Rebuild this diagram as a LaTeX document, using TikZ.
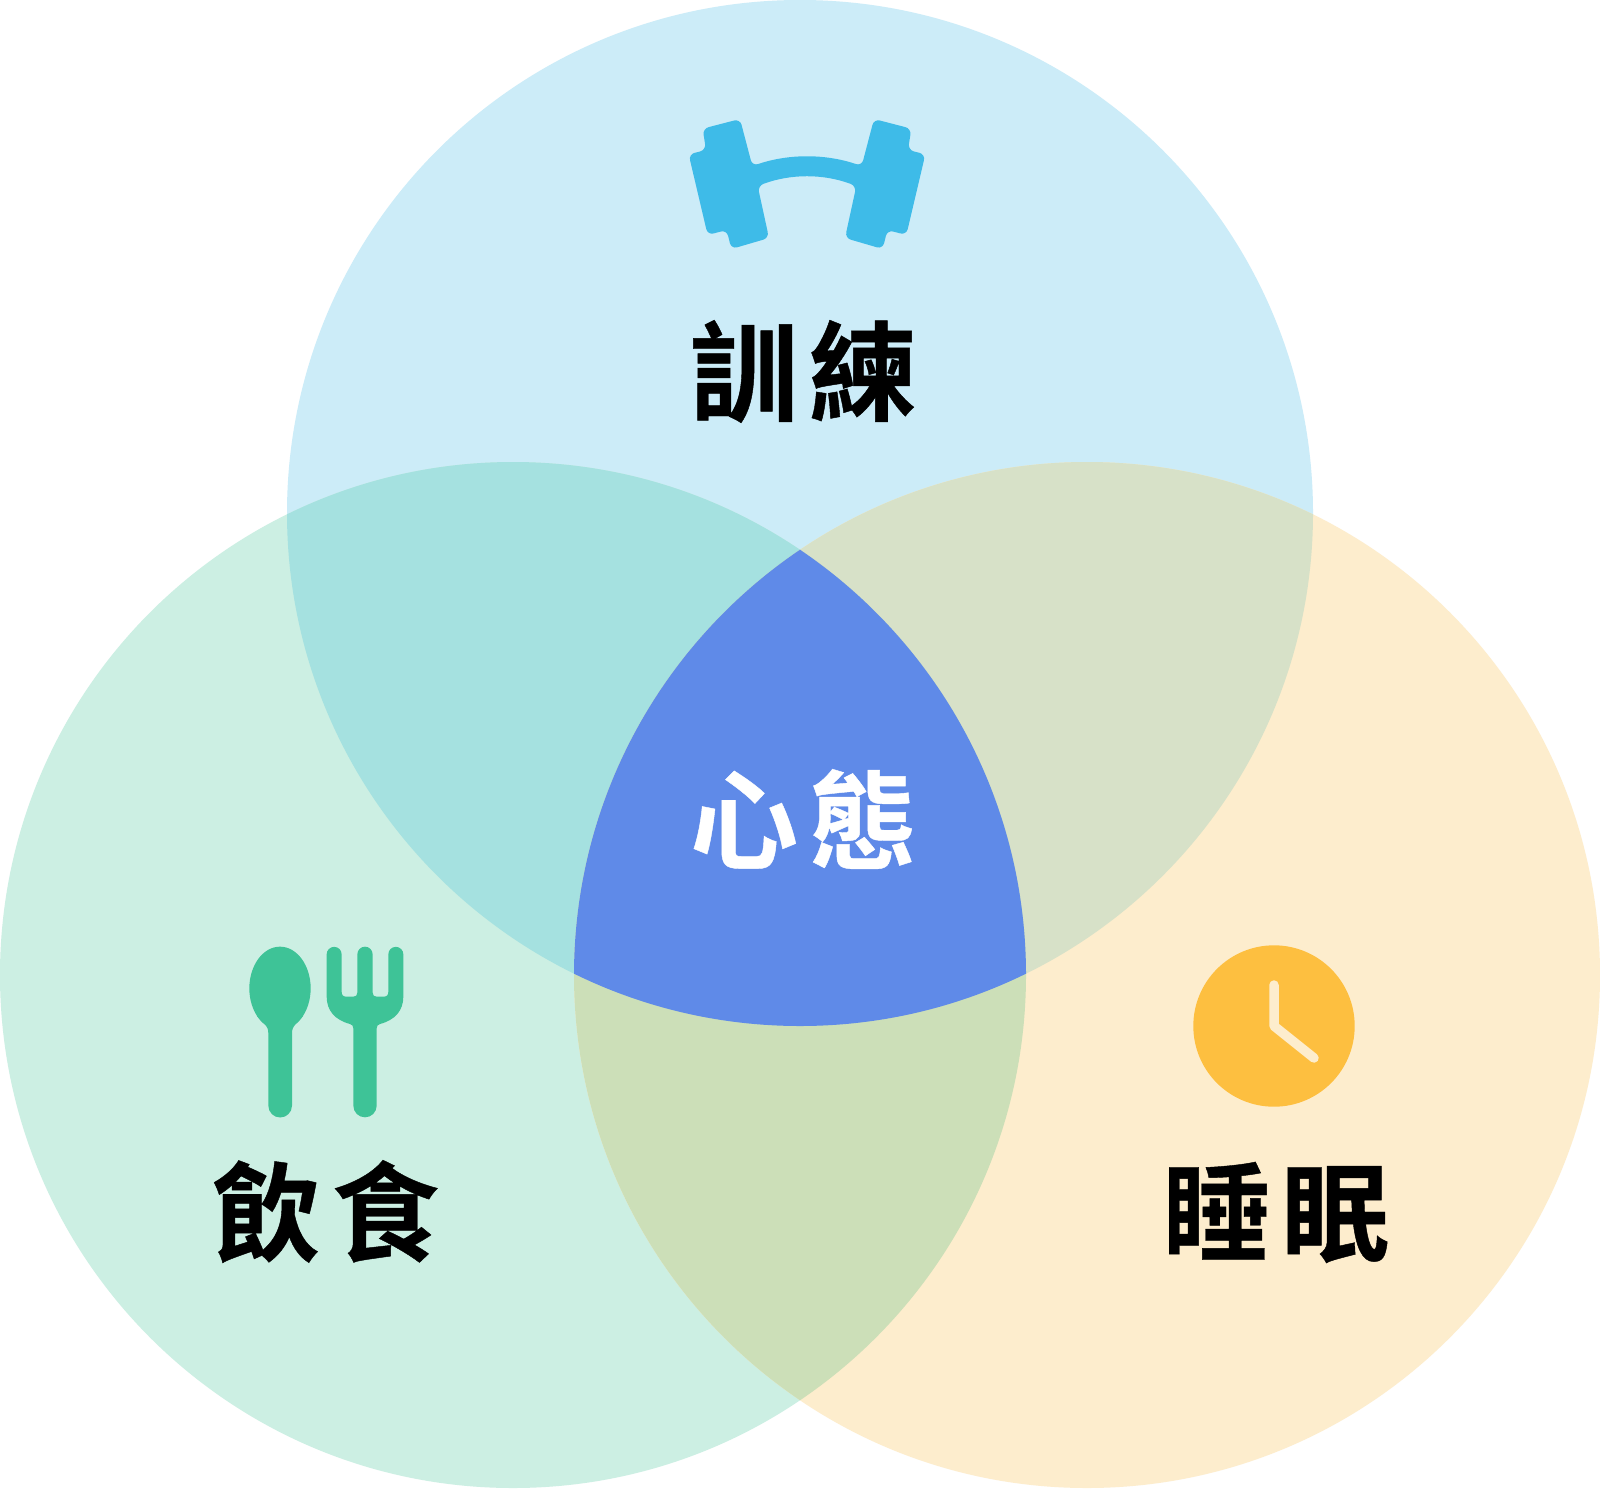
\documentclass[tikz,border=0pt]{standalone}
\usepackage{fontspec}
\newfontfamily\cjk[BoldFont=Noto Sans CJK TC Bold,BoldFeatures={FakeBold=0.4}]{Noto Sans CJK TC}
\tikzset{
  label text/.style={font=\cjk\bfseries\fontsize{108}{108}\selectfont,inner sep=0pt,text=black},
  centre text/.style={label text,text=white},
}
\definecolor{cTop}{HTML}{CCECF8}
\definecolor{cLeft}{HTML}{CCEFE3}
\definecolor{cRight}{HTML}{FDEDCD}
\definecolor{cTL}{HTML}{A5E1E0}
\definecolor{cTR}{HTML}{D7E1C8}
\definecolor{cLR}{HTML}{CCDFB8}
\definecolor{cMid}{HTML}{5F8AE8}
\definecolor{iBlue}{HTML}{3EBBE8}
\definecolor{iGreen}{HTML}{3EC397}
\definecolor{iYellow}{HTML}{FDBF40}
\begin{document}
\begin{tikzpicture}[x=1pt,y=-1pt]
\useasboundingbox (0,0) rectangle (1600,1488);
\fill[white] (0,0) rectangle (1600,1488);
\def\rr{513pt}
\coordinate (T) at (800,513);
\coordinate (L) at (513,975);
\coordinate (R) at (1087,975);
\fill[cTop] (T) circle[radius=\rr];
\fill[cLeft] (L) circle[radius=\rr];
\fill[cRight] (R) circle[radius=\rr];
\begin{scope}\clip (T) circle[radius=\rr]; \fill[cTL] (L) circle[radius=\rr];\end{scope}
\begin{scope}\clip (T) circle[radius=\rr]; \fill[cTR] (R) circle[radius=\rr];\end{scope}
\begin{scope}\clip (L) circle[radius=\rr]; \fill[cLR] (R) circle[radius=\rr];\end{scope}
\begin{scope}\clip (T) circle[radius=\rr]; \clip (L) circle[radius=\rr]; \fill[cMid] (R) circle[radius=\rr];\end{scope}
% dumbbell
\fill[iBlue,shift={(660,100)},scale=1/3,rounded corners=6pt]
  (128,86) -- (240,57) -- (277,198) .. controls (386,161) and (496,161) .. (605,198)
  -- (642,57) -- (754,86) -- (744,150) -- (796,163) -- (739,405)
  -- (682,390) -- (668,447) -- (555,414) -- (589,258) .. controls (490,221) and (392,221) .. (293,258)
  -- (327,414) -- (214,447) -- (200,390) -- (143,405) -- (86,163) -- (138,150) -- cycle;
% spoon and fork
\fill[iGreen,shift={(200,930)},scale=1/3] (240,175) ellipse[x radius=92,y radius=125];
\fill[iGreen,shift={(200,930)},scale=1/3] (171,258) .. controls (190,280) and (205,285) .. (205,310) -- (205,527) arc[start angle=180,delta angle=-180,radius=35.5] -- (276,310) .. controls (276,285) and (291,280) .. (309,258) -- cycle;
\fill[iGreen,shift={(200,930)},scale=1/3]
  (380,73) arc[start angle=180,delta angle=180,radius=22.5] -- (425,185)
  .. controls (425,196) and (430,200) .. (440,200) -- (460,200) .. controls (468,200) and (472,196) .. (472,188)
  -- (472,73) arc[start angle=180,delta angle=180,radius=23] -- (518,188)
  .. controls (518,196) and (522,200) .. (530,200) -- (550,200) .. controls (560,200) and (565,196) .. (565,185)
  -- (565,73) arc[start angle=180,delta angle=180,radius=22.5] -- (610,200)
  .. controls (610,242) and (585,270) .. (540,282) .. controls (533,284) and (530,288) .. (530,295) -- (530,527)
  arc[start angle=0,delta angle=180,radius=35] -- (460,295) .. controls (460,288) and (457,284) .. (450,282)
  .. controls (405,270) and (380,242) .. (380,200) -- cycle;
% clock
\fill[iYellow] (1274,1026) circle[radius=80.7pt];
\draw[cRight,line width=9.5pt,line cap=round,line join=round] (1274,985) -- (1274,1026) -- (1314,1058);
% labels
\node[label text] (xunlian) at (803.5,371.5) {訓\kern11pt 練};
\node[centre text] (xintai) at (803.5,819) {心\kern11pt 態};
\node[label text] (yinshi) at (326,1211.5) {飲\kern11pt 食};
\node[label text] (shuimian) at (1276,1212.5) {睡\kern11pt 眠};
\end{tikzpicture}
\end{document}
